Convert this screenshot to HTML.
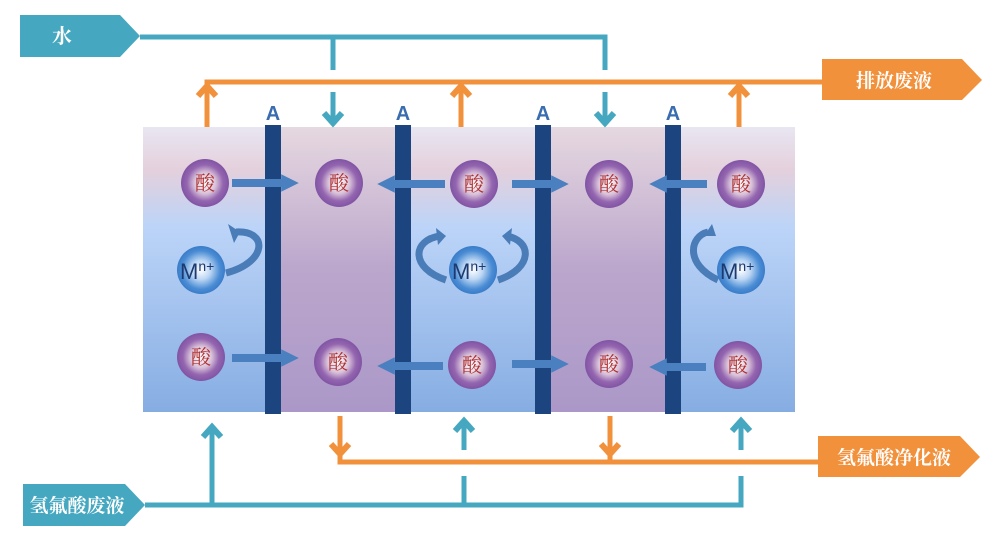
<!DOCTYPE html>
<html><head><meta charset="utf-8"><style>
html,body{margin:0;padding:0;background:#fff;width:998px;height:541px;overflow:hidden}
svg{display:block}
text{font-family:"Liberation Serif","Noto Serif CJK SC",serif}
</style></head><body>
<svg width="998" height="541" viewBox="0 0 998 541" xmlns="http://www.w3.org/2000/svg">
<defs>
<linearGradient id="gb" x1="0" y1="0" x2="0" y2="1">
<stop offset="0" stop-color="#e8e6f2"/><stop offset="0.15" stop-color="#e4d0dc"/><stop offset="0.35" stop-color="#bcd4f8"/><stop offset="1" stop-color="#86ade2"/></linearGradient>
<linearGradient id="gp" x1="0" y1="0" x2="0" y2="1">
<stop offset="0" stop-color="#e6d8e0"/><stop offset="0.5" stop-color="#bba6cc"/><stop offset="1" stop-color="#ab98c8"/></linearGradient>
<radialGradient id="ga" cx="0.5" cy="0.5" r="0.5"><stop offset="0" stop-color="#ffffff"/><stop offset="0.45" stop-color="#d8c0d8"/><stop offset="0.75" stop-color="#9466b0"/><stop offset="1" stop-color="#8154a4"/></radialGradient>
<radialGradient id="gm" cx="0.5" cy="0.5" r="0.5"><stop offset="0" stop-color="#ffffff"/><stop offset="0.4" stop-color="#bcd6f4"/><stop offset="0.8" stop-color="#4a8cd4"/><stop offset="1" stop-color="#3a7cc8"/></radialGradient>
<marker id="ab" viewBox="0 0 10 10" refX="5" refY="5" markerWidth="2.2" markerHeight="2.2" orient="auto"><path d="M0,0 L10,5 L0,10 z" fill="#4a80c0"/></marker>
</defs>
<rect x="143" y="127" width="122" height="285" fill="url(#gb)"/>
<rect x="281" y="127" width="114" height="285" fill="url(#gp)"/>
<rect x="411" y="127" width="124" height="285" fill="url(#gb)"/>
<rect x="551" y="127" width="114" height="285" fill="url(#gp)"/>
<rect x="681" y="127" width="114" height="285" fill="url(#gb)"/>
<g fill="#1c4580">
<rect x="265" y="125" width="16" height="289"/><rect x="395" y="125" width="16" height="289"/><rect x="535" y="125" width="16" height="289"/><rect x="665" y="125" width="16" height="289"/>
</g>
<g fill="#3a6cb0" font-weight="bold" font-size="20" text-anchor="middle">
<text x="273" y="120" style="font-family:'Liberation Sans',sans-serif">A</text><text x="403" y="120" style="font-family:'Liberation Sans',sans-serif">A</text><text x="543" y="120" style="font-family:'Liberation Sans',sans-serif">A</text><text x="673" y="120" style="font-family:'Liberation Sans',sans-serif">A</text>
</g>
<g stroke="#4a80c0" stroke-width="8" marker-end="url(#ab)" fill="none">
<line x1="232" y1="183" x2="290" y2="183"/><line x1="445" y1="184" x2="386" y2="184"/><line x1="512" y1="184" x2="560" y2="184"/><line x1="707" y1="184" x2="658" y2="184"/>
<line x1="232" y1="358" x2="290" y2="358"/><line x1="443" y1="366" x2="386" y2="366"/><line x1="512" y1="364" x2="560" y2="364"/><line x1="706" y1="367" x2="658" y2="367"/>
</g>
<g fill="none" stroke="#4a7cb8" stroke-width="7">
<path d="M226,273 C268,262 268,230 236,232"/>
<path d="M446,280 C410,268 412,240 440,236"/>
<path d="M498,280 C534,268 532,240 506,236"/>
<path d="M718,280 C684,264 690,236 708,232"/>
</g>
<g fill="#4a7cb8">
<path d="M228,224 L240,232 L234,243 z"/><path d="M436,228 L446,236 L438,245 z"/><path d="M512,228 L502,236 L510,245 z"/><path d="M712,224 L716,236 L704,236 z"/>
</g>
<g font-size="20" fill="#b03030" text-anchor="middle">
<circle cx="205" cy="183" r="24" fill="url(#ga)"/><text x="205" y="190">酸</text>
<circle cx="339" cy="183" r="24" fill="url(#ga)"/><text x="339" y="190">酸</text>
<circle cx="474" cy="184" r="24" fill="url(#ga)"/><text x="474" y="191">酸</text>
<circle cx="609" cy="184" r="24" fill="url(#ga)"/><text x="609" y="191">酸</text>
<circle cx="741" cy="184" r="24" fill="url(#ga)"/><text x="741" y="191">酸</text>
<circle cx="201" cy="357" r="24" fill="url(#ga)"/><text x="201" y="364">酸</text>
<circle cx="338" cy="362" r="24" fill="url(#ga)"/><text x="338" y="369">酸</text>
<circle cx="472" cy="365" r="24" fill="url(#ga)"/><text x="472" y="372">酸</text>
<circle cx="609" cy="364" r="24" fill="url(#ga)"/><text x="609" y="371">酸</text>
<circle cx="738" cy="365" r="24" fill="url(#ga)"/><text x="738" y="372">酸</text>
</g>
<g fill="#1c3a70" font-size="22">
<circle cx="201" cy="270" r="24" fill="url(#gm)"/><text x="180" y="279" style="font-family:'Liberation Sans',sans-serif">M<tspan font-size="14" dy="-8">n+</tspan></text>
<circle cx="473" cy="270" r="24" fill="url(#gm)"/><text x="452" y="279" style="font-family:'Liberation Sans',sans-serif">M<tspan font-size="14" dy="-8">n+</tspan></text>
<circle cx="741" cy="270" r="24" fill="url(#gm)"/><text x="720" y="279" style="font-family:'Liberation Sans',sans-serif">M<tspan font-size="14" dy="-8">n+</tspan></text>
</g>
<g stroke="#46a8c0" stroke-width="5" fill="none">
<polyline points="140,37 605,37 605,70"/><line x1="333" y1="37" x2="333" y2="70"/>
<line x1="333" y1="92" x2="333" y2="124"/><polyline points="324,113 333,123 342,113" stroke-width="6"/>
<line x1="605" y1="92" x2="605" y2="124"/><polyline points="596,113 605,123 614,113" stroke-width="6"/>
<polyline points="145,505 741,505 741,476"/><line x1="212" y1="505" x2="212" y2="428"/><line x1="464" y1="505" x2="464" y2="476"/>
<line x1="464" y1="450" x2="464" y2="420"/><line x1="741" y1="450" x2="741" y2="420"/>
<polyline points="203,437 212,427 221,437" stroke-width="6"/><polyline points="455,431 464,421 473,431" stroke-width="6"/><polyline points="732,431 741,421 750,431" stroke-width="6"/>
</g>
<g stroke="#f2913c" stroke-width="5" fill="none">
<polyline points="207,127 207,82 830,82"/><line x1="461" y1="127" x2="461" y2="82"/><line x1="739" y1="127" x2="739" y2="82"/>
<polyline points="198,96 207,86 216,96" stroke-width="6"/><polyline points="452,96 461,86 470,96" stroke-width="6"/><polyline points="730,96 739,86 748,96" stroke-width="6"/>
<polyline points="340,416 340,462 825,462"/><line x1="610" y1="416" x2="610" y2="462"/>
<polyline points="331,444 340,454 349,444" stroke-width="6"/><polyline points="601,444 610,454 619,444" stroke-width="6"/>
</g>
<polygon points="20,15 120,15 140,36 120,57 20,57" fill="#46a8c0"/>
<text x="62" y="43" font-size="20" font-weight="bold" fill="#fff" text-anchor="middle">水</text>
<polygon points="23,484 125,484 145,505 125,526 23,526" fill="#46a8c0"/>
<text x="77" y="512" font-size="19" font-weight="bold" fill="#fff" text-anchor="middle">氢氟酸废液</text>
<polygon points="822,59 962,59 982,80 962,100 822,100" fill="#f2913c"/>
<text x="894" y="87" font-size="19" font-weight="bold" fill="#fff" text-anchor="middle">排放废液</text>
<polygon points="818,436 960,436 980,457 960,477 818,477" fill="#f2913c"/>
<text x="894" y="464" font-size="19" font-weight="bold" fill="#fff" text-anchor="middle">氢氟酸净化液</text>
</svg>
</body></html>
